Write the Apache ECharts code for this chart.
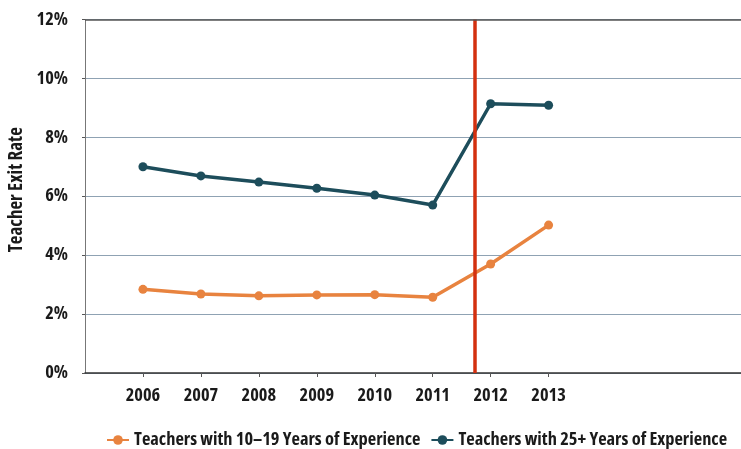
<!DOCTYPE html>
<html><head><meta charset="utf-8">
<script src="https://cdn.jsdelivr.net/npm/echarts@6/dist/echarts.min.js"></script>
<style>html,body{margin:0;padding:0;background:#fff}#c{width:741px;height:449px}</style>
</head><body><div id="c"></div>
<script>
const years = [2006, 2007, 2008, 2009, 2010, 2011, 2012, 2013];
const midCareer = [2.84, 2.68, 2.62, 2.65, 2.66, 2.57, 3.70, 5.02];
const lateCareer = [7.00, 6.69, 6.48, 6.27, 6.04, 5.70, 9.14, 9.09];
const seriesNames = ['Teachers with 10\u201319 Years of Experience', 'Teachers with 25+ Years of Experience'];
const policyLine = 2011.72;

// choose the narrowest installed bold face so that texts keep a large size
const cv = document.createElement('canvas').getContext('2d');
function width(weight, fam, s, t) { cv.font = weight + ' ' + s + 'px ' + fam; return cv.measureText(t).width; }
function installed(f) { return width('bold', '"' + f + '", monospace', 40, 'abcWxyz0123') !== width('bold', 'monospace', 40, 'abcWxyz0123'); }
const fams = ['Liberation Sans Narrow', 'DejaVu Sans Condensed', 'Roboto Condensed', 'Noto Sans', 'Roboto', 'DejaVu Sans', 'Liberation Sans', 'Open Sans', 'Inter', 'Lato'];
const stretches = ['', 'extra-condensed', 'condensed', 'semi-condensed'];
let best = { fs: 0, weight: 'bold', fam: 'sans-serif' };
for (const f of fams) {
  if (!installed(f)) continue;
  for (const st of stretches) {
    const weight = st ? 'bold ' + st : 'bold';
    const w = width(weight, '"' + f + '"', 20, seriesNames[0]);
    const fs = 20 * 287 / w;
    if (fs > best.fs + 0.05) best = { fs, weight, fam: '"' + f + '"' };
  }
}
const font = best.fam + ', sans-serif';
const weight = best.weight;
const fs = Math.min(20, Math.floor(best.fs * 10) / 10);

const chart = echarts.init(document.getElementById('c'));
chart.setOption({
  animation: false,
  textStyle: { fontFamily: font },
  grid: { left: 85, right: 0, top: 19.5, bottom: 76, containLabel: false, outerBoundsMode: 'none' },
  legend: {
    top: 426, left: 101, itemGap: 10, itemWidth: 22, itemHeight: 12,
    textStyle: { fontFamily: font, fontWeight: weight, fontSize: fs, color: '#1a1a1a' },
    data: seriesNames
  },
  xAxis: {
    type: 'value', min: 2005, max: 2016.32,
    axisLine: { show: true, lineStyle: { color: '#333', width: 1.5 } },
    axisTick: { show: true, customValues: years, length: 4, lineStyle: { color: '#555' } },
    axisLabel: { customValues: years, margin: 14, fontFamily: font, fontWeight: weight, fontSize: fs, color: '#1a1a1a', formatter: v => String(v) },
    splitLine: { show: false }
  },
  yAxis: {
    type: 'value', min: 0, max: 12, interval: 2,
    name: 'Teacher Exit Rate', nameLocation: 'middle', nameGap: 59,
    nameTextStyle: { fontFamily: font, fontWeight: weight, fontSize: Math.min(19, fs + 2), color: '#1a1a1a', padding: [0, 0, 0, 13] },
    axisLine: { show: true, lineStyle: { color: '#777', width: 1 } },
    axisTick: { show: true, length: 3, lineStyle: { color: '#555' } },
    axisLabel: { margin: 17, fontFamily: font, fontWeight: weight, fontSize: fs, color: '#1a1a1a', formatter: v => v + '%' },
    splitLine: { show: true, lineStyle: { color: '#8fa2b3', width: 1 } }
  },
  series: [
    {
      name: seriesNames[0], type: 'line', data: years.map((y, i) => [y, midCareer[i]]),
      color: '#e8833f', lineStyle: { width: 3.5 }, symbol: 'circle', symbolSize: 9, z: 3
    },
    {
      name: seriesNames[1], type: 'line', data: years.map((y, i) => [y, lateCareer[i]]),
      color: '#1d4d5b', lineStyle: { width: 3.5 }, symbol: 'circle', symbolSize: 9, z: 3,
      markLine: {
        silent: true, symbol: 'none', label: { show: false },
        lineStyle: { color: '#d3300f', width: 3.5, type: 'solid' },
        data: [{ xAxis: policyLine }], z: 5
      }
    },
    {
      type: 'line', data: [], markLine: {
        silent: true, symbol: 'none', label: { show: false },
        lineStyle: { color: '#555', width: 1.5, type: 'solid' },
        data: [{ yAxis: 12 }]
      }
    }
  ]
});
</script></body></html>
